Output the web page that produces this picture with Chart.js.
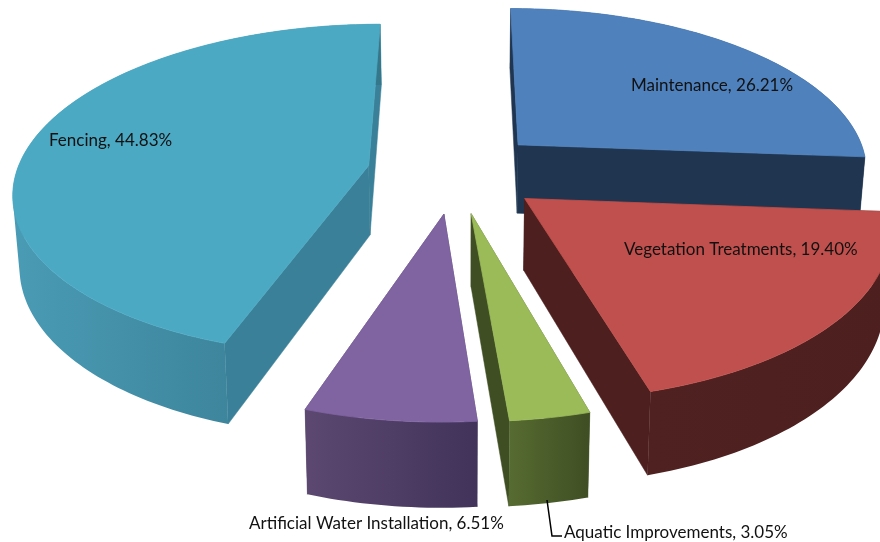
<!DOCTYPE html>
<html>
<head>
<meta charset="utf-8">
<title>Pie</title>
<script src="https://cdn.jsdelivr.net/npm/chart.js@4"></script>
<style>
  html, body { margin: 0; padding: 0; background: #fff; }
  canvas { display: block; }
</style>
</head>
<body>
<canvas id="pie3d" width="880" height="542"></canvas>
<script>
const categories = ['Maintenance', 'Vegetation Treatments', 'Aquatic Improvements', 'Artificial Water Installation', 'Fencing'];
const shares = [26.21, 19.40, 3.05, 6.51, 44.83];

const topColors = ['#4F81BD', '#C0504D', '#9BBB59', '#8064A2', '#4BA9C3'];
const wallColors = ['#1F3550', '#4D1F1E', '#3F4E23', '#4A3A60', '#3A8098'];
const outerFrom = ['#1F3550', '#4F2120', '#566B31', '#5C4870', '#4A9BB5'];
const outerTo = ['#1F3550', '#4D1F1E', '#3F4E23', '#41335A', '#34768A'];

// camera: fitted by eye on the reference
const CX = 455, CY = 172;
const RADIUS = 352, EXPLODE = 88;
const TILT = 0.465, DIST = 2400, THICK = 70, SHRINK = 0.015, VANISH = -4;

const labelPos = [
  { x: 631, y: 86 },
  { x: 624, y: 250 },
  { x: 564, y: 533 },
  { x: 249, y: 524 },
  { x: 49, y: 141 }
];

function project(wx, wz, level) {
  const s = DIST / (DIST - wz);
  return {
    x: CX + (wx + VANISH) * s * (1 - level * SHRINK) - VANISH,
    y: CY + wz * TILT * s + level * THICK * s
  };
}

function addPoly(ctx, pts) {
  pts.forEach((p, i) => (i ? ctx.lineTo(p.x, p.y) : ctx.moveTo(p.x, p.y)));
  ctx.closePath();
}

function tracePoly(ctx, pts) {
  ctx.beginPath();
  addPoly(ctx, pts);
}

function signedArea(pts) {
  let sum = 0;
  pts.forEach((p, i) => {
    const q = pts[(i + 1) % pts.length];
    sum += p.x * q.y - q.x * p.y;
  });
  return sum;
}

const Pie3D = {
  id: 'Pie3D',
  beforeDatasetsDraw(chart) {
    const ctx = chart.ctx;
    const arcs = chart.getDatasetMeta(0).data;

    // back slices first
    const order = arcs.map((arc, i) => {
      const mid = (arc.startAngle + arc.endAngle) / 2 + Math.PI / 2;
      return { arc, i, mid, z: -Math.cos(mid) };
    }).sort((a, b) => a.z - b.z);

    order.forEach(({ arc, i, mid }) => {
      const a0 = arc.startAngle + Math.PI / 2;
      const a1 = arc.endAngle + Math.PI / 2;
      const ox = arc.options.offset * Math.sin(mid);
      const oz = -arc.options.offset * Math.cos(mid);
      const steps = Math.ceil((a1 - a0) / 0.02);

      const rim = (level) => {
        const pts = [];
        for (let k = 0; k <= steps; k++) {
          const a = a0 + (a1 - a0) * k / steps;
          pts.push(project(ox + RADIUS * Math.sin(a), oz - RADIUS * Math.cos(a), level));
        }
        return pts;
      };
      const apex = (level) => project(ox, oz, level);
      const top = rim(0), bottom = rim(1);

      // radial walls
      ctx.fillStyle = wallColors[i];
      ctx.strokeStyle = wallColors[i];
      ctx.lineWidth = 0.5;
      [[top[0], bottom[0]], [top[steps], bottom[steps]]].forEach(([t, b]) => {
        tracePoly(ctx, [apex(0), t, b, apex(1)]);
        ctx.fill();
        ctx.stroke();
      });

      // outer wall: one path of same-wound quads, no seams and the fold stays filled
      const xs = top.map(p => p.x);
      const grad = ctx.createLinearGradient(Math.min(...xs), 0, Math.max(...xs), 0);
      grad.addColorStop(0, outerFrom[i]);
      grad.addColorStop(1, outerTo[i]);
      ctx.fillStyle = grad;
      ctx.beginPath();
      for (let k = 0; k < steps; k++) {
        const quad = [top[k], top[k + 1], bottom[k + 1], bottom[k]];
        addPoly(ctx, signedArea(quad) < 0 ? quad.reverse() : quad);
      }
      ctx.fill();

      // top face
      ctx.fillStyle = arc.options.backgroundColor;
      ctx.strokeStyle = arc.options.backgroundColor;
      ctx.lineWidth = 0.8;
      tracePoly(ctx, [apex(0)].concat(top));
      ctx.fill();
      ctx.stroke();
    });

    // data labels
    ctx.save();
    ctx.font = '17px Lato, sans-serif';
    ctx.fillStyle = '#111';
    ctx.textAlign = 'left';
    ctx.textBaseline = 'middle';
    categories.forEach((name, i) => {
      ctx.fillText(name + ', ' + shares[i].toFixed(2) + '%', labelPos[i].x, labelPos[i].y);
    });
    // leader line for the small slice
    ctx.strokeStyle = '#000';
    ctx.lineWidth = 1.5;
    ctx.beginPath();
    ctx.moveTo(547, 500);
    ctx.lineTo(552, 536);
    ctx.lineTo(562, 536);
    ctx.stroke();
    ctx.restore();

    return false; // arcs are replaced by the extruded ones above
  }
};

new Chart(document.getElementById('pie3d'), {
  type: 'pie',
  data: {
    labels: categories,
    datasets: [{
      data: shares,
      backgroundColor: topColors,
      borderWidth: 0,
      offset: EXPLODE
    }]
  },
  options: {
    responsive: false,
    animation: false,
    rotation: 0,
    plugins: { legend: { display: false }, tooltip: { enabled: false } }
  },
  plugins: [Pie3D]
});
</script>
</body>
</html>
